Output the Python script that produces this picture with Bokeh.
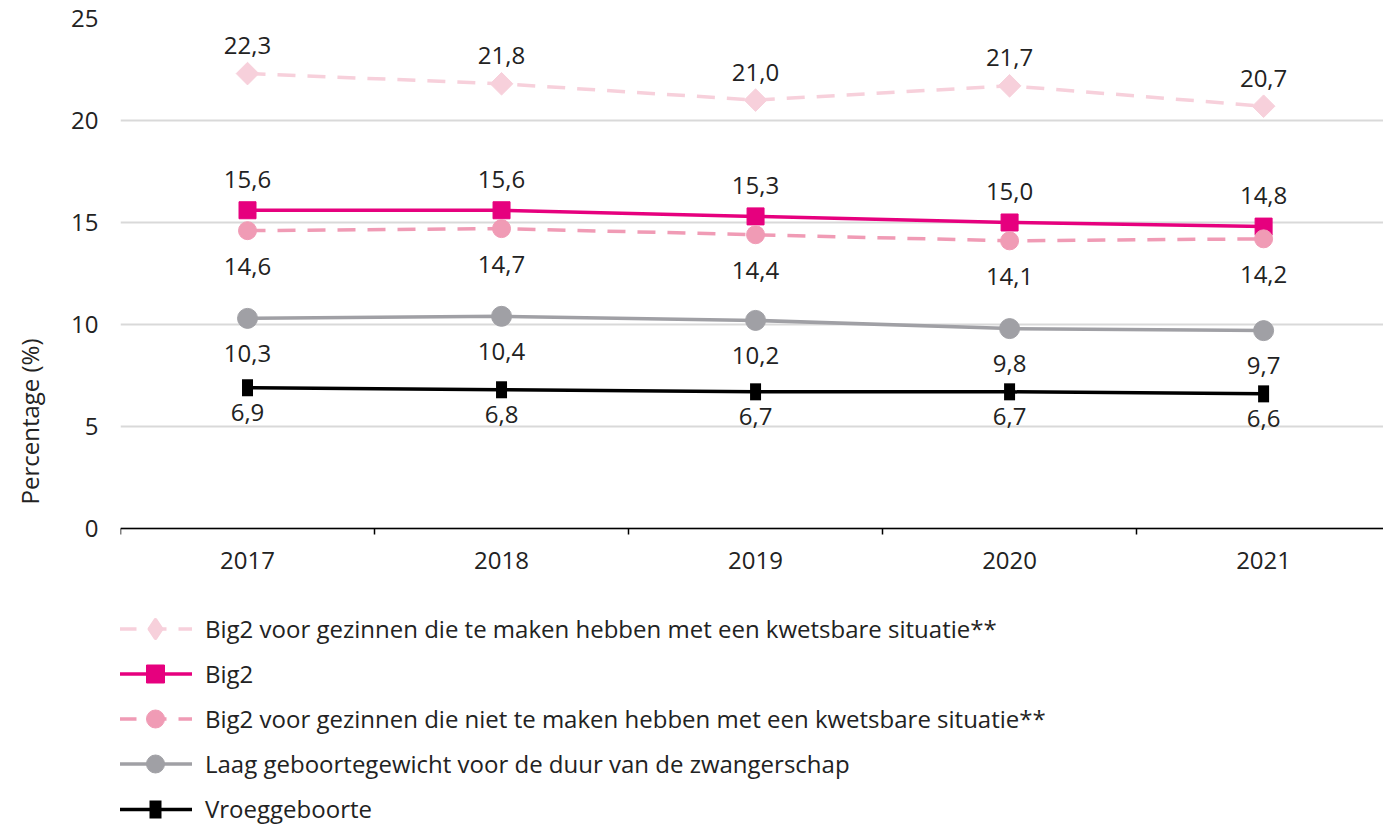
import math
from bokeh.plotting import figure
from bokeh.models import (Range1d, FixedTicker, Legend, LegendItem, ColumnDataSource)
from bokeh.core.properties import value
from bokeh.embed import file_html
from bokeh.resources import INLINE

years = [2017, 2018, 2019, 2020, 2021]
kwetsbaar = [22.3, 21.8, 21.0, 21.7, 20.7]
big2 = [15.6, 15.6, 15.3, 15.0, 14.8]
niet_kwetsbaar = [14.6, 14.7, 14.4, 14.1, 14.2]
laag_gewicht = [10.3, 10.4, 10.2, 9.8, 9.7]
vroeg = [6.9, 6.8, 6.7, 6.7, 6.6]

names = [
    "Big2 voor gezinnen die te maken hebben met een kwetsbare situatie**",
    "Big2",
    "Big2 voor gezinnen die niet te maken hebben met een kwetsbare situatie**",
    "Laag geboortegewicht voor de duur van de zwangerschap",
    "Vroeggeboorte",
]
y_ticks = [0, 5, 10, 15, 20, 25]

FONT = "Open Sans"
TXT = "#222222"
FS = "24px"

p = figure(frame_width=1263, frame_height=806, output_backend="svg", toolbar_location=None,
           x_range=Range1d(2016.5, 2021.472), y_range=Range1d(-14.51, 25),
           min_border_top=18, min_border_left=120, min_border_right=0, min_border_bottom=4,
           outline_line_color=None)

# grid
p.xgrid.grid_line_color = None
p.ygrid.grid_line_color = "#d9d9d9"
p.ygrid.grid_line_width = 2
p.ygrid.ticker = FixedTicker(ticks=y_ticks)

# y axis
p.yaxis.ticker = FixedTicker(ticks=y_ticks)
p.yaxis.axis_line_color = None
p.yaxis.major_tick_line_color = None
p.yaxis.minor_tick_line_color = None
p.yaxis.major_tick_out = 0
p.yaxis.major_label_standoff = 22
p.yaxis.major_label_text_font = FONT
p.yaxis.major_label_text_font_size = FS
p.yaxis.major_label_text_color = TXT
p.yaxis.axis_label = "Percentage (%)"
p.yaxis.axis_label_text_font = FONT
p.yaxis.axis_label_text_font_size = FS
p.yaxis.axis_label_text_font_style = "normal"
p.yaxis.axis_label_text_color = TXT
p.yaxis.axis_label_standoff = 22

# x axis at y = 0
p.xaxis.fixed_location = 0
p.xaxis.ticker = FixedTicker(ticks=years, minor_ticks=[y - 0.5 for y in years] + [2021.5])
p.xaxis.axis_line_color = "#000000"
p.xaxis.axis_line_width = 1.5
p.xaxis.major_tick_line_color = None
p.xaxis.major_tick_out = 0
p.xaxis.major_tick_in = 0
p.xaxis.minor_tick_line_color = "#000000"
p.xaxis.minor_tick_line_width = 1.5
p.xaxis.minor_tick_out = 6
p.xaxis.minor_tick_in = 0
p.xaxis.major_label_standoff = 18
p.xaxis.major_label_text_font = FONT
p.xaxis.major_label_text_font_size = FS
p.xaxis.major_label_text_color = TXT

def lab(vals):
    return [f"{v:.1f}".replace(".", ",") for v in vals]

# (values, colour, dash, plot marker, size, angle, marker line width,
#  legend marker, legend marker line width, label offset, side)
styles = [
    (kwetsbaar, "#f7d0db", "18 12", "square", 16, math.pi / 4, 1, "diamond", 4, 28, "above"),
    (big2, "#e6007e", "solid", "square", 17, 0, 1, "square", 1, 31, "above"),
    (niet_kwetsbaar, "#f09bb5", "18 12", "circle", 18, 0, 1, "circle", 1, 36, "below"),
    (laag_gewicht, "#a0a0a5", "solid", "circle", 20, 0, 1, "circle", 1, 35, "below"),
    (vroeg, "#000000", "solid", "dash", 17, math.pi / 2, 11, "dash", 18, 25, "below"),
]

items = []
for (vals, col, dash, mk, size, ang, mlw, lmk, llw, off, pos), name in zip(styles, names):
    src = ColumnDataSource(dict(x=years, y=vals, t=lab(vals)))
    r_line = p.line("x", "y", source=src, line_color=col, line_width=3.5, line_dash=dash)
    p.scatter("x", "y", source=src, marker=mk, size=size, angle=ang,
              fill_color=col, line_color=col, line_width=mlw)
    # marker used only for the legend key (hidden in the plot area)
    r_key = p.scatter("x", "y", source=src, marker=lmk, size=size, fill_color=col,
                      line_color=col, line_width=llw, line_join="round", visible=False)
    yoff = -off if pos == "above" else off
    p.text("x", "y", text="t", source=src, text_font=value(FONT), text_font_size=FS,
           text_color=TXT, text_align="center", text_baseline="middle", y_offset=yoff)
    items.append(LegendItem(label=name, renderers=[r_line, r_key]))

common = dict(orientation="vertical", margin=0, padding=0, spacing=0,
              glyph_width=74, label_standoff=13, label_text_font=FONT,
              label_text_font_size=FS, label_text_color=TXT,
              border_line_color=None, background_fill_alpha=0)

legend = Legend(items=items[:4], location=(-2, 38), glyph_height=45, label_height=30, **common)
legend2 = Legend(items=items[4:], location=(-2, -1), glyph_height=30, label_height=30, **common)
p.add_layout(legend)
p.add_layout(legend2)

open("out.html", "w").write(file_html(p, INLINE))
